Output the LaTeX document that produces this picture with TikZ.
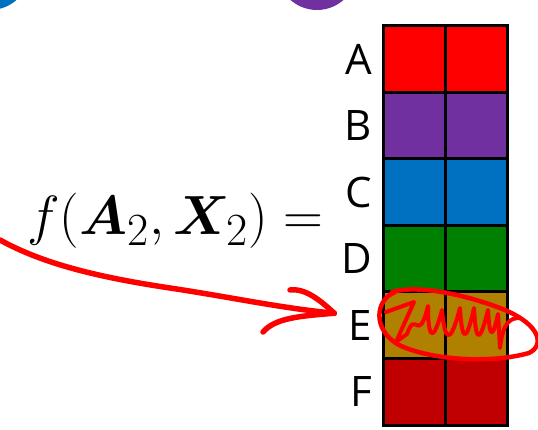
\documentclass[tikz,border=0pt]{standalone}
\usepackage{amsmath,bm}
\usepackage{fontspec}
\setsansfont{Open Sans}
\usepackage{tikz}
\usetikzlibrary{arrows.meta,positioning}

\definecolor{cRed}{RGB}{255,0,0}
\definecolor{cPurple}{RGB}{112,48,160}
\definecolor{cBlue}{RGB}{0,112,192}
\definecolor{cGreen}{RGB}{0,128,0}
\definecolor{cGold}{RGB}{176,128,0}
\definecolor{cDark}{RGB}{192,0,0}

\begin{document}
\begin{tikzpicture}[x=1pt,y=-1pt,node distance=0pt,>=Latex]
\tikzstyle{cell}=[rectangle,draw=black,line width=3pt,outer sep=0pt,inner sep=0pt,minimum width=62pt,minimum height=66.5pt]
\tikzstyle{lab}=[inner sep=0pt,font=\sffamily\fontsize{42}{48}\selectfont]
\tikzstyle{pen}=[draw=red,line width=5.5pt,line cap=round,line join=round]
\clip (0,0) rectangle (538,430);
% circles cut by the top edge
\fill[cBlue] (-10,-30) circle (40);
\fill[cPurple] (317,-30) circle (40);
% the column of cells
\node[cell,fill=cRed,anchor=north west] (a1) at (383,26) {};
\node[cell,fill=cRed,right=of a1] (a2) {};
\node[cell,fill=cPurple,below=of a1] (b1) {};
\node[cell,fill=cPurple,right=of b1] (b2) {};
\node[cell,fill=cBlue,below=of b1] (c1) {};
\node[cell,fill=cBlue,right=of c1] (c2) {};
\node[cell,fill=cGreen,below=of c1] (d1) {};
\node[cell,fill=cGreen,right=of d1] (d2) {};
\node[cell,fill=cGold,below=of d1] (e1) {};
\node[cell,fill=cGold,right=of e1] (e2) {};
\node[cell,fill=cDark,below=of e1] (f1) {};
\node[cell,fill=cDark,right=of f1] (f2) {};
\node[lab,left=11pt of a1] (la) {A};
\node[lab,left=11pt of b1] (lb) {B};
\node[lab,left=11pt of c1] (lc) {C};
\node[lab,left=11pt of d1] (ld) {D};
\node[lab,left=11pt of e1] (le) {E};
\node[lab,left=11pt of f1] (lf) {F};
% the formula
\node[inner sep=0pt,font=\Huge,scale=2.22,transform shape] (fx) at (175,221) {$f(\bm{A}_2,\bm{X}_2)=$};
% pen marks
\coordinate (start) at (0,240);
\coordinate (tip) at ([xshift=-14pt,yshift=12pt]le.west);
\draw[pen] (start) .. controls (40,262) and (90,276) .. (170,288)
  .. controls (230,297) and (280,308) .. (tip);
\draw[pen] (290,290) .. controls (305,288) and (320,300) .. (tip);
\draw[pen] (tip) .. controls (300,316) and (275,318) .. (263,332);
\draw[pen,line width=4.5pt] (395,292) .. controls (375,300) and (372,330) .. (399,345)
  .. controls (430,360) and (490,364) .. (529,353)
  .. controls (545,345) and (540,325) .. (505,310)
  .. controls (470,296) and (420,284) .. (392,292);
\draw[pen,line width=4pt] (386,312) -- (414,302) -- (396,342) -- (407,334)
  .. controls (416,308) and (418,346) .. (428,306)
  .. controls (428,334) and (432,348) .. (442,310)
  .. controls (445,342) and (450,346) .. (460,308)
  .. controls (462,342) and (466,344) .. (474,308)
  .. controls (476,346) and (480,342) .. (488,310)
  .. controls (490,346) and (494,332) .. (498,314) -- (500,348)
  .. controls (503,322) and (510,318) .. (520,318);
\end{tikzpicture}
\end{document}
